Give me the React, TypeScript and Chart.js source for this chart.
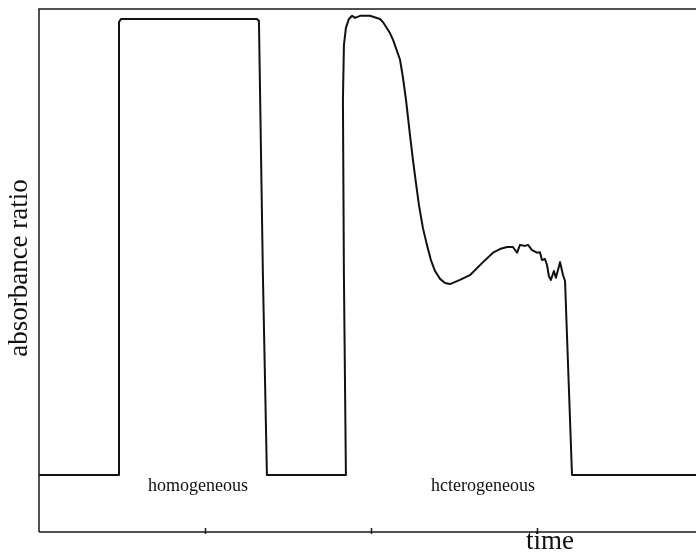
import React, { useEffect, useRef } from "react";
import { Chart, registerables } from "chart.js";

Chart.register(...registerables);

// Time axis (arbitrary units, one tick per unit) and absorbance ratio (0–100 scale)
const timeValues = [
  0, 0.482, 0.482, 0.494, 1.313, 1.325, 1.349, 1.373,
  1.849, 1.837, 1.831, 1.837, 1.849, 1.867, 1.886, 1.904, 1.934, 1.994,
  2.054, 2.072, 2.114, 2.133, 2.175, 2.193, 2.211, 2.235, 2.253, 2.271,
  2.289, 2.313, 2.337, 2.361, 2.386, 2.416, 2.446, 2.476, 2.536, 2.596,
  2.675, 2.735, 2.777, 2.819, 2.855, 2.88, 2.898, 2.928, 2.946, 2.97,
  3.0, 3.018, 3.03, 3.048, 3.06, 3.072, 3.084, 3.102, 3.114, 3.139,
  3.157, 3.169, 3.211, 3.958,
];
const ratioValues = [
  10.9, 10.9, 97.5, 98.1, 98.1, 97.7, 48.9, 10.9,
  10.9, 48.9, 82.6, 93.1, 96.4, 98.1, 98.7, 98.3, 98.7, 98.7,
  98.1, 97.5, 95.4, 94.1, 90.3, 86.8, 82.6, 75.9, 71.1, 66.7,
  62.5, 58.1, 54.9, 52.0, 49.9, 48.4, 47.6, 47.4, 48.2, 49.1,
  51.6, 53.4, 54.1, 54.5, 54.5, 53.4, 54.9, 54.7, 54.9, 53.9,
  53.4, 53.5, 52.0, 52.2, 51.1, 48.9, 48.2, 49.9, 48.6, 51.6,
  49.1, 48.0, 10.9, 10.9,
];

const xTicks = [1, 2, 3];
const xMin = 0;
const xMax = 3.958;
const yMin = 0;
const yMax = 100;

const regionLabels = ["homogeneous", "hcterogeneous"];
const regionLabelTime = [0.958, 2.675];
const regionLabelRatio = 7.8;

const yTitle = "absorbance ratio";
const xTitle = "time";

const SERIF = '"Liberation Serif", "Times New Roman", serif';

const framePlugin = {
  id: "frameAndText",
  afterDraw(chart: any) {
    const { ctx, chartArea, scales } = chart;
    const xs = scales.x;
    const ys = scales.y;
    ctx.save();
    // frame: left, top and bottom edges
    ctx.strokeStyle = "#1a1a1a";
    ctx.lineWidth = 1.5;
    ctx.beginPath();
    ctx.moveTo(chartArea.left, chartArea.bottom);
    ctx.lineTo(chartArea.left, chartArea.top);
    ctx.lineTo(chartArea.right, chartArea.top);
    ctx.moveTo(chartArea.left, chartArea.bottom);
    ctx.lineTo(chartArea.right, chartArea.bottom);
    ctx.stroke();

    // small tick marks crossing the time axis
    ctx.lineWidth = 1.5;
    ctx.beginPath();
    for (const t of xTicks) {
      const px = Math.round(xs.getPixelForValue(t)) + 0.5;
      ctx.moveTo(px, chartArea.bottom - 4);
      ctx.lineTo(px, chartArea.bottom + 2);
    }
    ctx.stroke();

    ctx.fillStyle = "#111";
    ctx.textBaseline = "alphabetic";
    ctx.textAlign = "center";

    // region labels under the trace
    ctx.font = `18px ${SERIF}`;
    regionLabels.forEach((label, i) => {
      ctx.fillText(
        label,
        xs.getPixelForValue(regionLabelTime[i]),
        ys.getPixelForValue(regionLabelRatio)
      );
    });

    // axis titles
    ctx.font = `27px ${SERIF}`;
    ctx.fillText(xTitle, 550, 549);

    ctx.translate(27, 268);
    ctx.rotate(-Math.PI / 2);
    ctx.fillText(yTitle, 0, 0);
    ctx.restore();
  },
};

export default function App() {
  const canvasRef = useRef<HTMLCanvasElement | null>(null);

  useEffect(() => {
    const canvas = canvasRef.current;
    if (!canvas) return;
    const points = timeValues.map((t, i) => ({ x: t, y: ratioValues[i] }));
    const chart = new Chart(canvas, {
      type: "scatter",
      data: {
        datasets: [
          {
            data: points,
            showLine: true,
            borderColor: "#111",
            borderWidth: 2,
            borderJoinStyle: "round",
            pointRadius: 0,
            tension: 0,
            fill: false,
          },
        ],
      },
      options: {
        animation: false,
        responsive: false,
        devicePixelRatio: 1,
        layout: { padding: { left: 39, top: 9, right: 0, bottom: 20 } },
        plugins: {
          legend: { display: false },
          tooltip: { enabled: false },
        },
        scales: {
          x: { type: "linear", min: xMin, max: xMax, display: false },
          y: { type: "linear", min: yMin, max: yMax, display: false },
        },
      },
      plugins: [framePlugin],
    });
    return () => chart.destroy();
  }, []);

  return (
    <div
      style={{
        position: "absolute",
        left: 0,
        top: 0,
        width: 696,
        height: 552,
        background: "#fff",
      }}
    >
      <canvas
        ref={canvasRef}
        width={696}
        height={552}
        style={{ display: "block", width: 696, height: 552 }}
      />
    </div>
  );
}
